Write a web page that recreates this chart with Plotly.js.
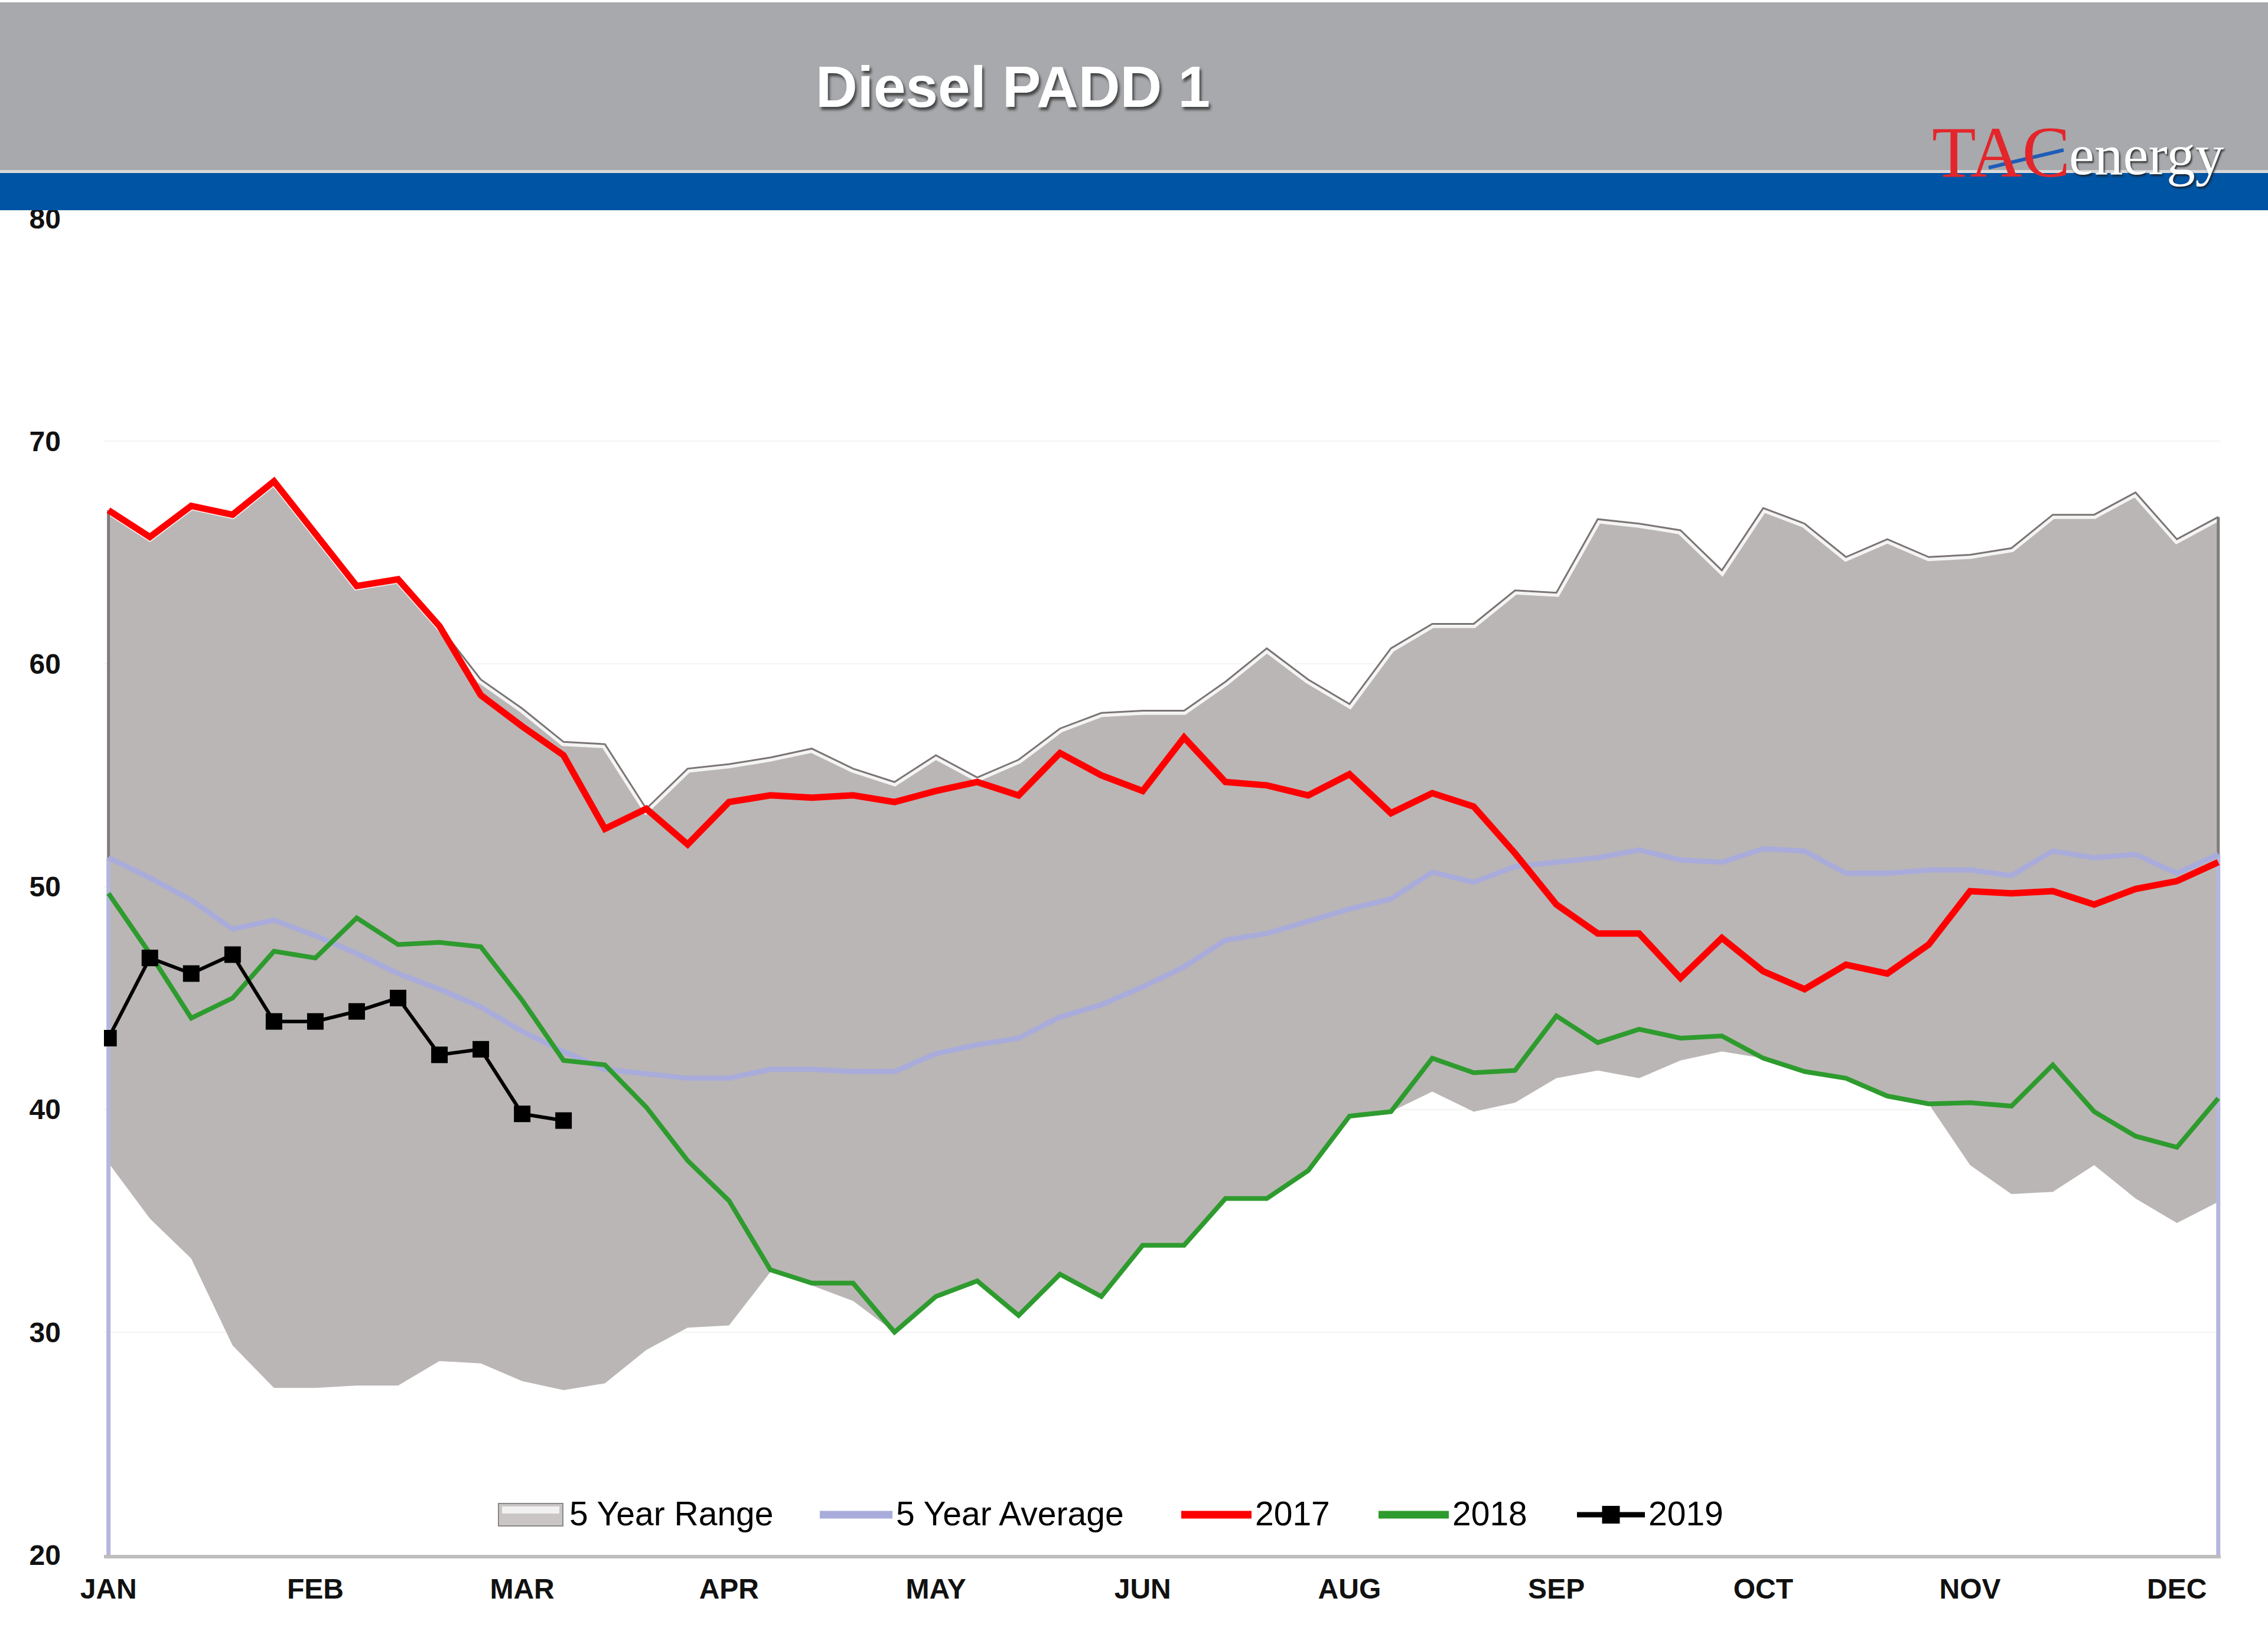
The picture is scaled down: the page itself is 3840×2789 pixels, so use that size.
<!DOCTYPE html>
<html>
<head>
<meta charset="utf-8">
<script src="https://cdn.plot.ly/plotly-3.0.1.min.js"></script>
<style>html,body{margin:0;padding:0;background:#fff;}#chart{width:3840px;height:2789px;}</style>
</head>
<body>
<div id="chart"></div>
<script>
// ---- Data (weekly, 52 weeks) ----
const rangeUpper = [66.9, 65.7, 67.1, 66.7, 68.2, 65.9, 63.5, 63.8, 61.7, 59.3,
  58.0, 56.5, 56.4, 53.5, 55.3, 55.5, 55.8, 56.2, 55.3, 54.7,
  55.9, 54.9, 55.7, 57.1, 57.8, 57.9, 57.9, 59.2, 60.7, 59.3,
  58.2, 60.7, 61.8, 61.8, 63.3, 63.2, 66.5, 66.3, 66.0, 64.2,
  67.0, 66.3, 64.8, 65.6, 64.8, 64.9, 65.2, 66.7, 66.7, 67.7,
  65.6, 66.6];
const rangeLower = [37.6, 35.1, 33.3, 29.4, 27.5, 27.5, 27.6, 27.6, 28.7, 28.6,
  27.8, 27.4, 27.7, 29.2, 30.2, 30.3, 32.7, 32.1, 31.4, 30.0,
  31.6, 32.3, 30.75, 32.6, 31.6, 33.9, 33.9, 36.0, 36.0, 37.25,
  39.7, 39.9, 40.8, 39.9, 40.3, 41.4, 41.75, 41.4, 42.2, 42.6,
  42.3, 41.7, 41.4, 40.6, 40.25, 37.5, 36.2, 36.3, 37.5, 36.0,
  34.9, 35.85];
const fiveYearAvg = [51.3, 50.4, 49.4, 48.1, 48.5, 47.8, 47.0, 46.1, 45.4, 44.6,
  43.5, 42.6, 41.8, 41.6, 41.4, 41.4, 41.8, 41.8, 41.7, 41.7,
  42.5, 42.9, 43.2, 44.15, 44.7, 45.5, 46.4, 47.6, 47.9, 48.45,
  49.0, 49.45, 50.65, 50.2, 50.9, 51.1, 51.3, 51.65, 51.2, 51.1,
  51.7, 51.6, 50.6, 50.6, 50.75, 50.75, 50.5, 51.6, 51.3, 51.45,
  50.6, 51.45];
const y2017 = [66.9, 65.7, 67.1, 66.7, 68.2, 65.9, 63.5, 63.8, 61.7, 58.6,
  57.2, 55.9, 52.6, 53.5, 51.9, 53.8, 54.1, 54.0, 54.1, 53.8,
  54.3, 54.7, 54.1, 56.0, 55.0, 54.3, 56.7, 54.7, 54.55, 54.1,
  55.05, 53.3, 54.2, 53.6, 51.5, 49.2, 47.9, 47.9, 45.9, 47.7,
  46.2, 45.4, 46.5, 46.1, 47.4, 49.8, 49.7, 49.8, 49.2, 49.9,
  50.25, 51.1];
const y2018 = [49.7, 47.0, 44.1, 45.0, 47.1, 46.8, 48.6, 47.4, 47.5, 47.3,
  44.9, 42.2, 42.0, 40.1, 37.7, 35.9, 32.8, 32.2, 32.2, 30.0,
  31.6, 32.3, 30.75, 32.6, 31.6, 33.9, 33.9, 36.0, 36.0, 37.25,
  39.7, 39.9, 42.3, 41.65, 41.75, 44.2, 43.0, 43.6, 43.2, 43.3,
  42.3, 41.7, 41.4, 40.6, 40.25, 40.3, 40.15, 42.0, 39.9, 38.8,
  38.3, 40.5];
const y2019 = [43.2, 46.8, 46.1, 46.95, 43.95, 43.95, 44.4, 45.0, 42.45, 42.7, 39.8, 39.5];

const monthTickWeeks = [0, 5, 10, 15, 20, 25, 30, 35, 40, 45, 50];
const monthLabels = ['JAN', 'FEB', 'MAR', 'APR', 'MAY', 'JUN', 'AUG', 'SEP', 'OCT', 'NOV', 'DEC'];
const yTicks = [20, 30, 40, 50, 60, 70, 80];
const seriesNames = ['5 Year Range', '5 Year Average', '2017', '2018', '2019'];

// ---- Styles ----
const COL = {range: '#BAB6B5', avg: '#A9ACDA', y2017: '#FF0000', y2018: '#2E9B2E', y2019: '#000000'};

const weeks = rangeUpper.map((_, i) => i);
const weeks2019 = y2019.map((_, i) => i);
const lastWeek = weeks[weeks.length - 1];
const yMin = 20, yMax = 80;

const skip = {hoverinfo: 'skip', showlegend: false};

const traces = [
  Object.assign({x: weeks, y: rangeLower, mode: 'lines', line: {width: 0, color: 'rgba(0,0,0,0)'}}, skip),
  Object.assign({x: weeks, y: rangeUpper, mode: 'lines', fill: 'tonexty', fillcolor: COL.range,
   line: {width: 0, color: '#8f8a8a'}, name: seriesNames[0]}, skip),
  Object.assign({x: weeks, y: rangeUpper, mode: 'lines', line: {width: 14, color: 'rgba(255,255,255,0.85)'}}, skip),
  Object.assign({x: weeks, y: rangeUpper, mode: 'lines', line: {width: 3, color: '#7a7474'}}, skip),
  Object.assign({x: [weeks[0], weeks[0]], y: [rangeLower[0], rangeUpper[0]], mode: 'lines', line: {width: 5, color: '#807b7b'}}, skip),
  Object.assign({x: [lastWeek, lastWeek], y: [rangeLower[lastWeek], rangeUpper[lastWeek]], mode: 'lines', line: {width: 5, color: '#807b7b'}}, skip),
  Object.assign({x: [weeks[0], weeks[0]], y: [fiveYearAvg[0], yMin], mode: 'lines', line: {width: 7, color: '#B4B6DE'}}, skip),
  Object.assign({x: [lastWeek, lastWeek], y: [fiveYearAvg[lastWeek], yMin], mode: 'lines', line: {width: 7, color: '#B4B6DE'}}, skip),
  Object.assign({x: weeks, y: fiveYearAvg, mode: 'lines', name: seriesNames[1], line: {width: 9, color: COL.avg}}, skip),
  Object.assign({x: weeks, y: y2017, mode: 'lines', name: seriesNames[2], line: {width: 11, color: COL.y2017}}, skip),
  Object.assign({x: weeks, y: y2018, mode: 'lines', name: seriesNames[3], line: {width: 8, color: COL.y2018}}, skip),
  Object.assign({x: weeks2019, y: y2019, mode: 'lines+markers', name: seriesNames[4], line: {width: 6, color: COL.y2019},
   marker: {symbol: 'square', size: 28, color: COL.y2019}}, skip)
];

const L = 176, R = 80, T = 370, B = 156, W = 3840, H = 2789;
const pw = W - L - R, ph = H - T - B;
const px = (xFull) => (xFull - L) / pw;
const py = (yFull) => (H - B - yFull) / ph;

// ---- Legend (drawn in page pixels) ----
const legY = 2565;
const legendItems = [
  {name: seriesNames[0], kind: 'box', color: COL.range, s0: 844, s1: 953, tx: 962},
  {name: seriesNames[1], kind: 'line', color: COL.avg, s0: 1388, s1: 1511, tx: 1515},
  {name: seriesNames[2], kind: 'line', color: COL.y2017, s0: 2000, s1: 2119, tx: 2123},
  {name: seriesNames[3], kind: 'line', color: COL.y2018, s0: 2334, s1: 2453, tx: 2457},
  {name: seriesNames[4], kind: 'marker', color: COL.y2019, s0: 2670, s1: 2785, tx: 2789}
];
const legendShapes = [];
const legendAnnots = [];
legendItems.forEach(it => {
  if (it.kind === 'box') {
    legendShapes.push({type: 'rect', xref: 'paper', yref: 'paper', x0: px(it.s0), x1: px(it.s1),
      y0: py(legY + 19), y1: py(legY - 19), fillcolor: '#c9c6c5', line: {color: '#8c8787', width: 2}});
    legendShapes.push({type: 'rect', xref: 'paper', yref: 'paper', x0: px(it.s0 + 6), x1: px(it.s1 - 6),
      y0: py(legY - 2), y1: py(legY - 14), fillcolor: 'rgba(255,255,255,0.75)', line: {width: 0}});
  } else {
    legendShapes.push({type: 'line', xref: 'paper', yref: 'paper', x0: px(it.s0), x1: px(it.s1),
      y0: py(legY), y1: py(legY), line: {color: it.color, width: it.kind === 'marker' ? 9 : 13}});
    if (it.kind === 'marker') {
      const c = (it.s0 + it.s1) / 2;
      legendShapes.push({type: 'rect', xref: 'paper', yref: 'paper', x0: px(c - 15), x1: px(c + 15),
        y0: py(legY + 15), y1: py(legY - 15), fillcolor: it.color, line: {width: 0}});
    }
  }
  legendAnnots.push({xref: 'paper', yref: 'paper', x: px(it.tx), y: py(legY - 2), xanchor: 'left', yanchor: 'middle',
    text: it.name, showarrow: false, font: {family: 'Liberation Sans, Arial, sans-serif', size: 57, color: '#000'}});
});

const layout = {
  width: W, height: H,
  margin: {l: L, r: R, t: T, b: B, pad: 0},
  paper_bgcolor: '#ffffff', plot_bgcolor: '#ffffff',
  showlegend: false,
  xaxis: {
    range: [-0.11, 51.06], tickmode: 'array', tickvals: monthTickWeeks, ticktext: monthLabels,
    showgrid: false, zeroline: false, showline: true, linecolor: '#bdbdbd', linewidth: 6,
    ticks: '', ticklabelstandoff: 10,
    tickfont: {family: 'Liberation Sans, Arial, sans-serif', size: 48, color: '#111', weight: 'bold'}
  },
  yaxis: {
    range: [yMin, yMax], tickmode: 'array', tickvals: yTicks,
    showgrid: true, gridcolor: '#f3f3f3', gridwidth: 2, zeroline: false, showline: false,
    ticks: '', ticklabelstandoff: 72,
    tickfont: {family: 'Liberation Sans, Arial, sans-serif', size: 48, color: '#111', weight: 'bold'}
  },
  shapes: [
    {type: 'rect', xref: 'paper', yref: 'paper', x0: px(0), x1: px(W), y0: py(288), y1: py(4),
     fillcolor: '#A7A9AC', line: {width: 0}, layer: 'above'},
    {type: 'rect', xref: 'paper', yref: 'paper', x0: px(0), x1: px(W), y0: py(293), y1: py(288),
     fillcolor: '#d9d9d9', line: {width: 0}, layer: 'above'},
    {type: 'rect', xref: 'paper', yref: 'paper', x0: px(0), x1: px(W), y0: py(356), y1: py(293),
     fillcolor: '#0054A4', line: {width: 0}, layer: 'above'}
  ].concat(legendShapes),
  annotations: [
    {xref: 'paper', yref: 'paper', x: px(1715), y: py(147), xanchor: 'center', yanchor: 'middle',
     text: 'Diesel PADD 1', showarrow: false,
     font: {family: 'Liberation Sans, Arial, sans-serif', size: 98, color: '#ffffff', weight: 'bold',
            shadow: '3px 5px 4px rgba(50,50,50,0.85)'}},
    {xref: 'paper', yref: 'paper', x: px(3388), y: py(257), xanchor: 'center', yanchor: 'middle',
     text: 'TAC', showarrow: false,
     font: {family: 'Liberation Serif, Times New Roman, serif', size: 122, color: '#E3262B'}},
    {xref: 'paper', yref: 'paper', x: px(3634), y: py(262), xanchor: 'center', yanchor: 'middle',
     text: 'energy', showarrow: false,
     font: {family: 'Liberation Serif, Times New Roman, serif', size: 97, color: '#ffffff',
            shadow: '2px 3px 3px rgba(30,30,30,0.85)'}}
  ].concat(legendAnnots)
};

// logo swoosh, drawn over the lettering
layout.shapes.push({type: 'line', xref: 'paper', yref: 'paper', x0: px(3367), y0: py(284), x1: px(3494), y1: py(254),
  line: {color: '#1f5cb8', width: 6}, layer: 'above'});

Plotly.newPlot('chart', traces, layout, {staticPlot: true, displayModeBar: false});
</script>
</body>
</html>
